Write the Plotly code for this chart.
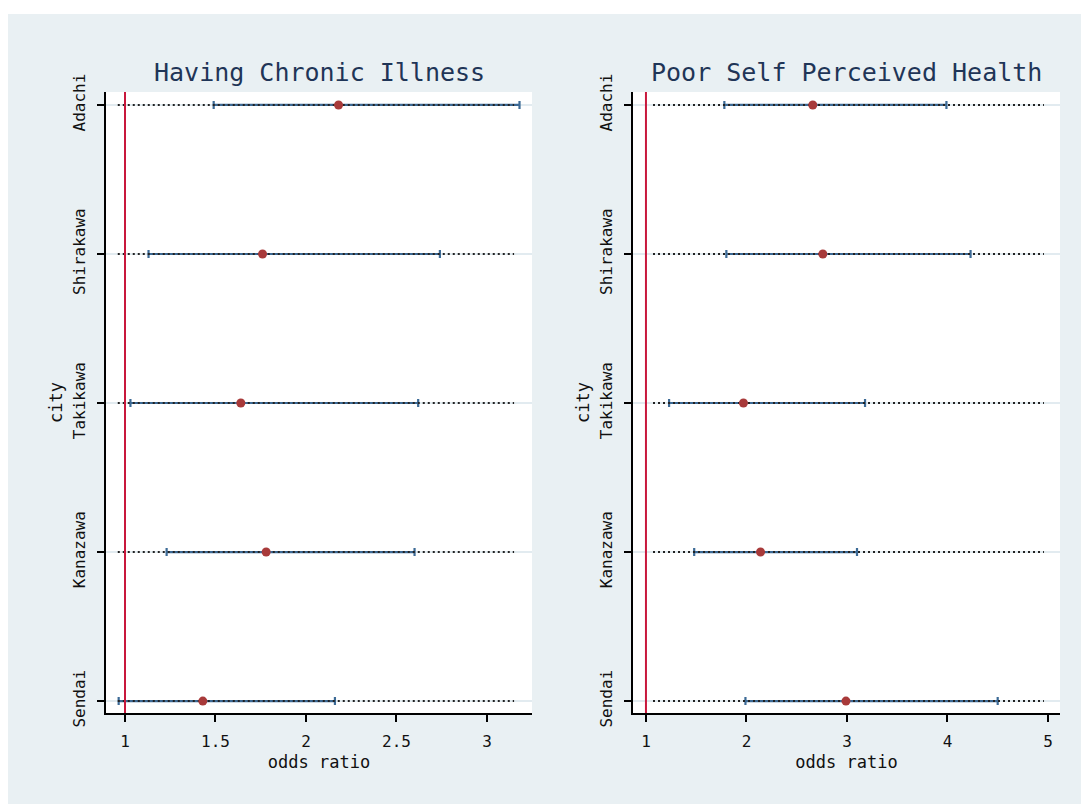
import plotly.graph_objects as go

# ---------------- data ----------------
cities = ["Adachi", "Shirakawa", "Takikawa", "Kanazawa", "Sendai"]
city_pos = [4, 3, 2, 1, 0]

chronic_or = [2.18, 1.76, 1.64, 1.78, 1.43]
chronic_lo = [1.49, 1.13, 1.03, 1.23, 0.965]
chronic_hi = [3.18, 2.74, 2.62, 2.60, 2.16]

health_or = [2.66, 2.76, 1.97, 2.14, 2.99]
health_lo = [1.78, 1.80, 1.23, 1.48, 1.99]
health_hi = [3.99, 4.23, 3.18, 3.10, 4.50]

chronic_ticks = [1, 1.5, 2, 2.5, 3]
chronic_ticktext = ["1", "1.5", "2", "2.5", "3"]
health_ticks = [1, 2, 3, 4, 5]
health_ticktext = ["1", "2", "3", "4", "5"]

titles = ["Having Chronic Illness", "Poor Self Perceived Health"]
x_title = "odds ratio"
y_title = "city"
ref_value = 1

# ---------------- style / geometry ----------------
OFF = 8                      # default page body margin
W, H = 1089 - OFF, 804 - OFF


def px(x):
    return (x - OFF) / W


def py(y):
    return 1 - (y - OFF) / H


FONT = "DejaVu Sans Mono"
BG = "#E9F0F3"
CI_COLOR = "#3C6A96"
PT_COLOR = "#A83A3A"
REF_COLOR = "#C8183C"
GRID = "#E2EBF0"

panels = [
    dict(orv=chronic_or, lo=chronic_lo, hi=chronic_hi, ticks=chronic_ticks,
         ticktext=chronic_ticktext, xrange=[0.895, 3.249], dots=[0.96, 3.15],
         xdom=[px(106), px(532)], title=titles[0]),
    dict(orv=health_or, lo=health_lo, hi=health_hi, ticks=health_ticks,
         ticktext=health_ticktext, xrange=[0.871, 5.12], dots=[1.07, 4.96],
         xdom=[px(633), px(1060)], title=titles[1]),
]
ydom = [py(713), py(92)]
yrange = [-0.08, 4.087]

fig = go.Figure()

for i, p in enumerate(panels):
    xa = "x" if i == 0 else "x2"
    ya = "y" if i == 0 else "y2"
    plus = [h - o for h, o in zip(p["hi"], p["orv"])]
    minus = [o - l for o, l in zip(p["orv"], p["lo"])]
    # confidence intervals
    fig.add_trace(go.Scatter(
        x=p["orv"], y=city_pos, mode="markers", xaxis=xa, yaxis=ya,
        marker=dict(size=1, color="rgba(0,0,0,0)"),
        error_x=dict(type="data", symmetric=False, array=plus, arrayminus=minus,
                     color=CI_COLOR, thickness=2.2, width=4),
        showlegend=False, hoverinfo="skip"))
    # dotted guide lines
    dx, dy = [], []
    for yv in city_pos:
        dx += [p["dots"][0], p["dots"][1], None]
        dy += [yv, yv, None]
    fig.add_trace(go.Scatter(
        x=dx, y=dy, mode="lines", xaxis=xa, yaxis=ya,
        line=dict(color="#222222", width=2, dash="2px,3px"),
        showlegend=False, hoverinfo="skip"))
    # point estimates
    fig.add_trace(go.Scatter(
        x=p["orv"], y=city_pos, mode="markers", xaxis=xa, yaxis=ya,
        marker=dict(size=9, color=PT_COLOR),
        showlegend=False))
    # reference line at OR = 1
    fig.add_shape(type="line", x0=ref_value, x1=ref_value, y0=0, y1=1,
                  xref=xa, yref=f"{ya} domain",
                  line=dict(color=REF_COLOR, width=2), layer="above")
    # panel title
    fig.add_annotation(text=p["title"], x=(p["xdom"][0] + p["xdom"][1]) / 2,
                       y=py(72), xref="paper", yref="paper",
                       xanchor="center", yanchor="middle", showarrow=False,
                       font=dict(family=FONT, size=25, color="#1F3557"))

    axis_common = dict(showline=True, linecolor="black", linewidth=2,
                       ticks="outside", ticklen=7, tickwidth=2, tickcolor="black",
                       zeroline=False, automargin=False,
                       tickfont=dict(family=FONT, size=16, color="#111111"))
    xkey = "xaxis" if i == 0 else "xaxis2"
    ykey = "yaxis" if i == 0 else "yaxis2"
    fig.update_layout(**{
        xkey: dict(domain=p["xdom"], range=p["xrange"], anchor=ya,
                   tickvals=p["ticks"], ticktext=p["ticktext"], showgrid=False,
                   ticklabelstandoff=6,
                   title=dict(text=x_title, standoff=6,
                              font=dict(family=FONT, size=17, color="#111111")),
                   **axis_common),
        ykey: dict(domain=ydom, range=yrange, anchor=xa,
                   tickvals=city_pos, ticktext=cities, tickangle=-90,
                   showgrid=True, gridcolor=GRID, gridwidth=2,
                   ticklabelstandoff=6,
                   title=dict(text=y_title, standoff=3,
                              font=dict(family=FONT, size=17, color="#111111")),
                   **axis_common),
    })

# white strip at the top of the original image (page margin gives the rest)
fig.add_shape(type="rect", xref="paper", yref="paper", x0=0, x1=1,
              y0=py(14), y1=1, fillcolor="white", line_width=0, layer="below")

fig.update_layout(
    width=W, height=H,
    margin=dict(l=0, r=0, t=0, b=0, autoexpand=False),
    paper_bgcolor=BG, plot_bgcolor="white",
    font=dict(family=FONT),
    showlegend=False,
)

fig.write_html("out.html")
